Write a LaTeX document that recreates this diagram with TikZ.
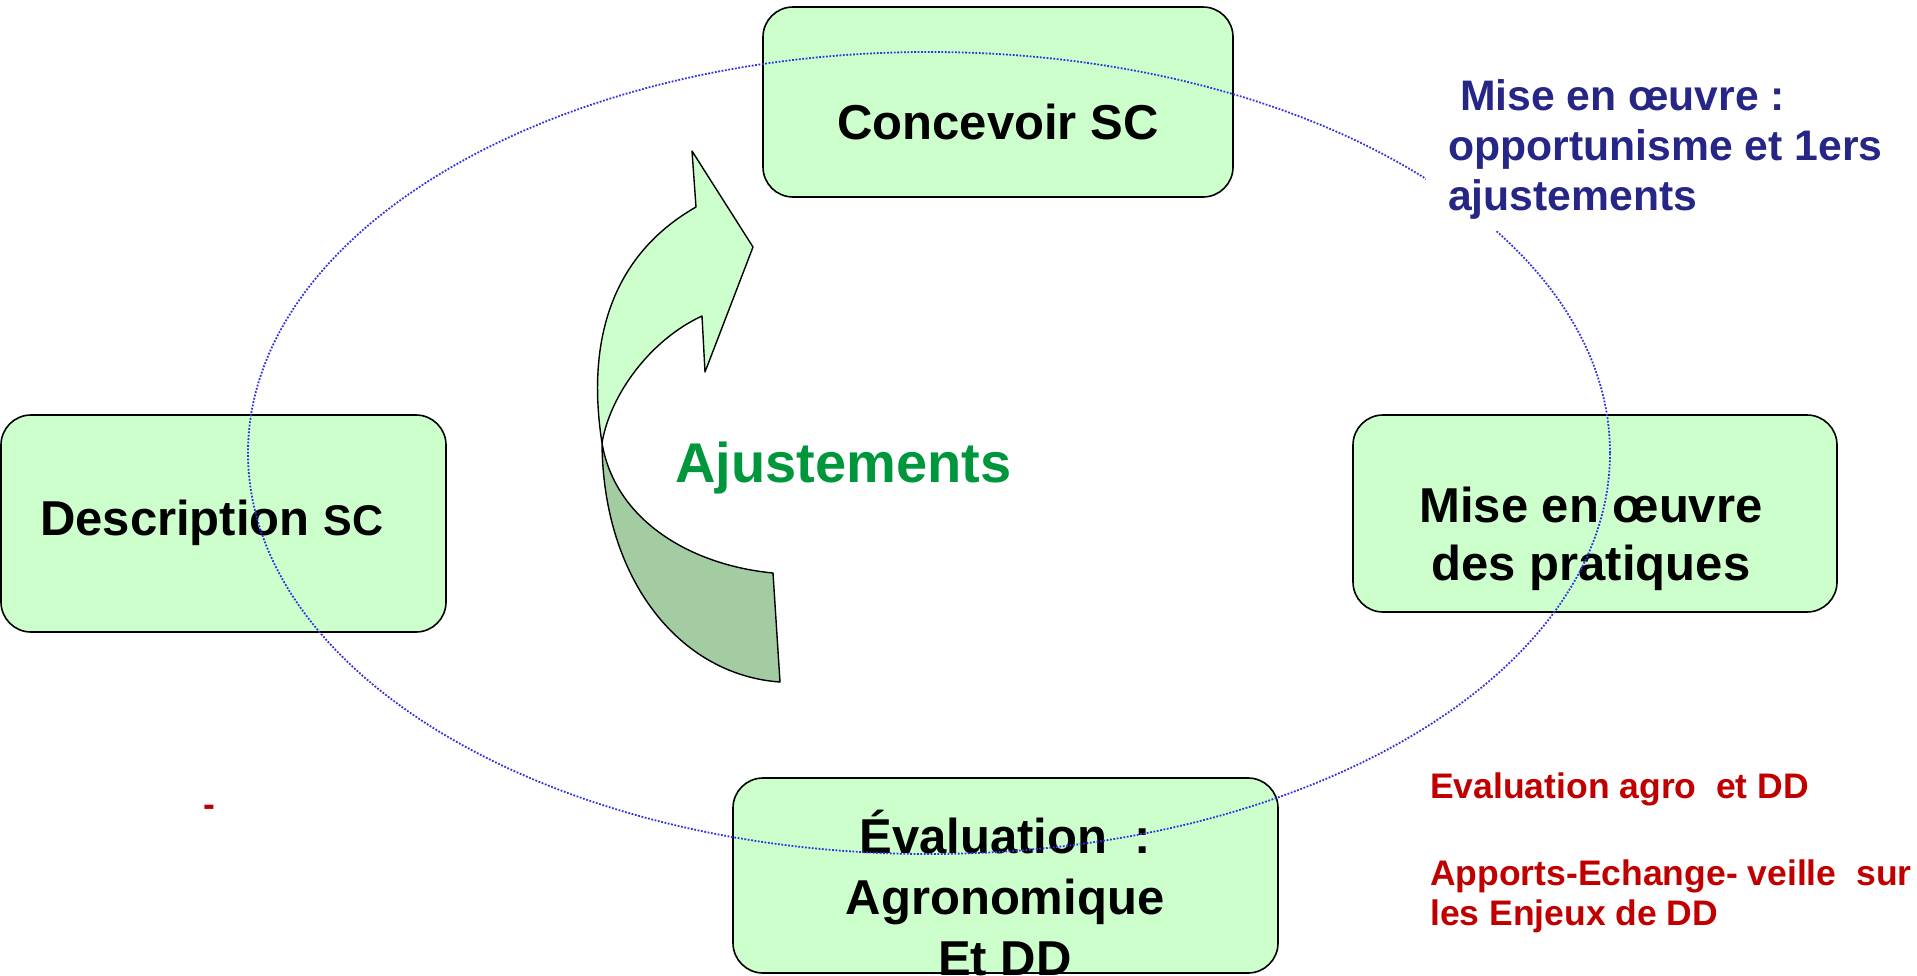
\documentclass[tikz,border=0pt]{standalone}
\usepackage{fontspec}
\setmainfont{Liberation Sans}
\definecolor{vertclair}{HTML}{CCFFCC}
\definecolor{vertfonce}{HTML}{A3CCA3}
\definecolor{vertajust}{HTML}{00963C}
\definecolor{bleutexte}{HTML}{262686}
\definecolor{bleucercle}{HTML}{3333DD}
\definecolor{rougetexte}{HTML}{C00000}
\begin{document}
\begin{tikzpicture}[x=1pt,y=-1pt,
    etape/.style={draw, line width=1.6pt, fill=vertclair, rounded corners=30pt, inner sep=0pt},
    titre/.style={inner sep=0pt, align=center},
    cycle/.style={draw=bleucercle, line width=1.8pt, dash pattern=on 1.8pt off 1.6pt},
    fleche/.style={draw, line width=1.4pt, line join=round}]
  \useasboundingbox (0,0) rectangle (1917,975);
  % les quatre etapes
  \node[etape, minimum width=470pt, minimum height=190pt] (concevoir) at (998,102) {};
  \node[etape, minimum width=445pt, minimum height=217pt] (description) at (223.5,523.5) {};
  \node[etape, minimum width=484pt, minimum height=197pt] (miseoeuvre) at (1595,513.5) {};
  \node[etape, minimum width=545pt, minimum height=195pt] (evaluation) at (1005.5,875.5) {};
  \node[titre, anchor=base, font=\bfseries\fontsize{49}{58}\selectfont] (concevoir-t) at (998,139) {Concevoir SC};
  \node[titre, anchor=base west, font=\bfseries] (description-t) at (40,535)
    {{\fontsize{49}{58}\selectfont Description }{\fontsize{43}{50}\selectfont SC}};
  % ancre base = ligne du bas
  \node[titre, anchor=base, font=\bfseries\fontsize{49}{58}\selectfont] (miseoeuvre-t) at (1591,580)
    {Mise en œuvre\\des pratiques};
  \node[titre, anchor=base, font=\bfseries\fontsize{49}{61}\selectfont] (evaluation-t) at (1005,975)
    {Évaluation~~:\\Agronomique\\Et DD};
  % fleche des ajustements
  \draw[fleche, fill=vertfonce] (602,443) .. controls (603,580) and (680,675) .. (780,682)
    -- (773,573) .. controls (690,565) and (615,520) .. cycle;
  \draw[fleche, fill=vertclair] (602,443) .. controls (586,340) and (612,255) .. (696,207)
    -- (692,151) -- (753,247) -- (705,372) -- (702,316) .. controls (650,340) and (610,395) .. cycle;
  \node[titre, anchor=base west, text=vertajust, font=\bfseries\fontsize{56}{67}\selectfont] (ajust) at (675,482) {Ajustements};
  % le cycle
  \draw[cycle] (929,453) ellipse [x radius=681pt, y radius=401pt];
  \node[anchor=base west, align=left, fill=white, inner xsep=22pt, inner ysep=12pt, text=bleutexte,
    font=\bfseries\fontsize{42.7}{50}\selectfont] (opportun) at (1426,210)
    {\ Mise en œuvre :\\opportunisme et 1ers\\ajustements};
  \node[titre, anchor=base west, align=left, text=rougetexte, font=\bfseries\fontsize{35.5}{40}\selectfont] (evalagro) at (1430,798)
    {Evaluation agro~~et DD};
  \node[titre, anchor=base west, align=left, text=rougetexte, font=\bfseries\fontsize{35.5}{40}\selectfont] (apports) at (1430,925)
    {Apports-Echange- veille~~sur\\les Enjeux de DD};
  \node[titre, anchor=base, text=rougetexte, font=\bfseries\fontsize{35.5}{40}\selectfont] (tiret) at (209,816) {-};
\end{tikzpicture}
\end{document}
